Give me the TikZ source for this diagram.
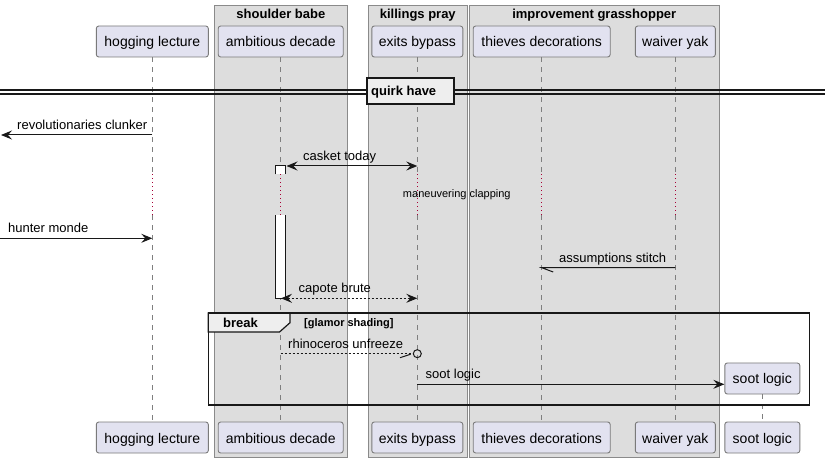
\documentclass[tikz,border=0pt]{standalone}
\usepackage{fontspec}
\setmainfont{Liberation Sans}
\usetikzlibrary{arrows.meta}
\definecolor{partfill}{HTML}{E2E2F0}
\definecolor{partline}{HTML}{7A7A7A}
\definecolor{boxfill}{HTML}{DDDDDD}
\definecolor{boxline}{HTML}{8A8A8A}
\definecolor{lifecol}{HTML}{7F7F7F}
\definecolor{msgcol}{HTML}{181818}
\definecolor{delaycol}{HTML}{A80036}
\definecolor{tabfill}{HTML}{EEEEEE}
\tikzset{
  part/.style={draw=partline, line width=0.9pt, fill=partfill, rounded corners=2.5pt,
    minimum height=31pt, inner sep=0pt, text height=11pt, text depth=0pt,
    font=\fontsize{14}{16}\selectfont},
  grpbox/.style={draw=boxline, line width=1pt, fill=boxfill},
  grptitle/.style={anchor=base, font=\fontsize{13}{15}\selectfont\bfseries, inner sep=0pt},
  life/.style={draw=lifecol, line width=0.9pt, dash pattern=on 5pt off 5pt},
  delayline/.style={draw=delaycol, line width=0.9pt, dash pattern=on 1pt off 3pt},
  msg/.style={draw=msgcol, line width=1pt},
  dmsg/.style={msg, dash pattern=on 2pt off 2pt},
  tip/.style={-{Stealth[length=11pt,width=9pt,inset=4pt]}},
  bitip/.style={{Stealth[length=11pt,width=9pt,inset=4pt]}-{Stealth[length=11pt,width=9pt,inset=4pt]}},
  lbl/.style={anchor=base west, inner sep=0pt, font=\fontsize{13}{15}\selectfont},
  act/.style={draw=msgcol, line width=1pt, fill=white},
  frame/.style={draw=msgcol, line width=1.6pt},
}
\begin{document}
\begin{tikzpicture}[x=1pt,y=-1pt]
\useasboundingbox (0,0) rectangle (825,462);
\fill[white] (0,0) rectangle (825,462);

% group boxes
\draw[grpbox] (214.3,6) rectangle (347.5,457);
\draw[grpbox] (368.3,6) rectangle (467.3,457);
\draw[grpbox] (469.3,6) rectangle (719.3,457);
\node[grptitle] (g1) at (280.9,18.5) {shoulder babe};
\node[grptitle] (g2) at (417.8,18.5) {killings pray};
\node[grptitle] (g3) at (594.3,18.5) {improvement grasshopper};

% participants top
\node[part, minimum width=112pt] (hlT) at (152.3,41.5) {hogging lecture};
\node[part, minimum width=125pt] (adT) at (280.7,41.5) {ambitious decade};
\node[part, minimum width=91pt]  (ebT) at (417.3,41.5) {exits bypass};
\node[part, minimum width=137pt] (tdT) at (541.7,41.5) {thieves decorations};
\node[part, minimum width=80pt]  (wyT) at (675.3,41.5) {waiver yak};
% participants bottom
\node[part, minimum width=112pt] (hlB) at (152.3,437.5) {hogging lecture};
\node[part, minimum width=125pt] (adB) at (280.7,437.5) {ambitious decade};
\node[part, minimum width=91pt]  (ebB) at (417.3,437.5) {exits bypass};
\node[part, minimum width=137pt] (tdB) at (541.7,437.5) {thieves decorations};
\node[part, minimum width=80pt]  (wyB) at (675.3,437.5) {waiver yak};
\node[part, minimum width=75pt]  (slB) at (762.3,437.5) {soot logic};
\node[part, minimum width=75pt]  (slT) at (762.3,378.5) {soot logic};

% lifelines with delay
\foreach \p/\x in {hl/152.3, ad/280.7, eb/417.3, td/541.7, wy/675.3}{
  \coordinate (\p d1) at (\x,174.3);
  \coordinate (\p d2) at (\x,215.3);
  \draw[life] (\p T.south) -- (\p d1);
  \draw[delayline] (\p d1) -- (\p d2);
  \draw[life] (\p d2) -- (\p B.north);
}
\draw[life] (slT.south) -- (slB.north);

% activation on ambitious decade
\fill[white] (275.7,166) rectangle (285.7,174.3);
\draw[msg] (275.7,174.3) -- (275.7,166) -- (285.7,166) -- (285.7,174.3);
\fill[white] (275.7,215.3) rectangle (285.7,298.3);
\draw[msg] (275.7,215.3) -- (275.7,298.3) -- (285.7,298.3) -- (285.7,215.3);
\draw[delayline] (add1) -- (add2);

% divider
\draw[msg, line width=1.2pt] (0,90) -- (825,90);
\draw[msg, line width=1.2pt] (0,94) -- (825,94);
\node[draw=msgcol, line width=2pt, fill=tabfill, minimum width=87pt, minimum height=26pt, inner sep=0pt] (div) at (410.5,91) {};
\node[anchor=base west, inner sep=0pt, font=\fontsize{13}{15}\selectfont\bfseries] (divt) at (371,96) {quirk have};

% message 1
\coordinate (m1s) at (152.3,135);
\coordinate (m1e) at (1,135);
\draw[msg, tip] (m1s) -- (m1e);
\node[lbl] (l1) at (17,130) {revolutionaries clunker};

% message 2
\coordinate (m2s) at (286.5,166);
\coordinate (m2e) at (417.3,166);
\draw[msg, bitip] (m2s) -- (m2e);
\node[lbl] (l2) at (303,160.5) {casket today};

% delay text
\node[anchor=base, inner sep=0pt, font=\fontsize{11}{13}\selectfont] (dly) at (456.8,198) {maneuvering clapping};

% message 3
\coordinate (m3s) at (0,238.3);
\coordinate (m3e) at (152.3,238.3);
\draw[msg, tip] (m3s) -- (m3e);
\node[lbl] (l3) at (8,233) {hunter monde};

% message 4
\coordinate (m4s) at (675.3,267.7);
\coordinate (m4e) at (541.7,267.7);
\draw[msg] (m4s) -- (m4e) -- ++(11.5,4.3);
\node[lbl] (l4) at (559,262.5) {assumptions stitch};

% message 5
\coordinate (m5s) at (281,298.3);
\coordinate (m5e) at (417.3,298.3);
\draw[dmsg, bitip] (m5s) -- (m5e);
\node[lbl] (l5) at (298.5,293) {capote brute};

% break frame
\draw[frame, fill=tabfill, line width=1.2pt] (208.3,313) -- (290,313) -- (290,322.7) -- (279.5,332) -- (208.3,332) -- cycle;
\draw[frame] (208.3,313) rectangle (809.3,405);
\node[anchor=base west, inner sep=0pt, font=\fontsize{13}{15}\selectfont\bfseries] (brk) at (223,327.7) {break};
\node[anchor=base west, inner sep=0pt, font=\fontsize{11}{13}\selectfont\bfseries] (grd) at (304,327) {[glamor shading]};

% message 6
\coordinate (m6s) at (280.7,353.7);
\coordinate (m6c) at (417.3,353.7);
\draw[dmsg] (m6s) -- (413.3,353.7);
\draw[msg, solid] (m6c) circle (4pt);
\draw[msg] (400,357.7) -- (410.7,354.2);
\node[lbl] (l6) at (288,348.5) {rhinoceros unfreeze};

% message 7
\coordinate (m7s) at (417.3,384.3);
\draw[msg, tip] (m7s) -- (slT.west |- m7s);
\node[lbl] (l7) at (425.5,379) {soot logic};
\end{tikzpicture}
\end{document}
